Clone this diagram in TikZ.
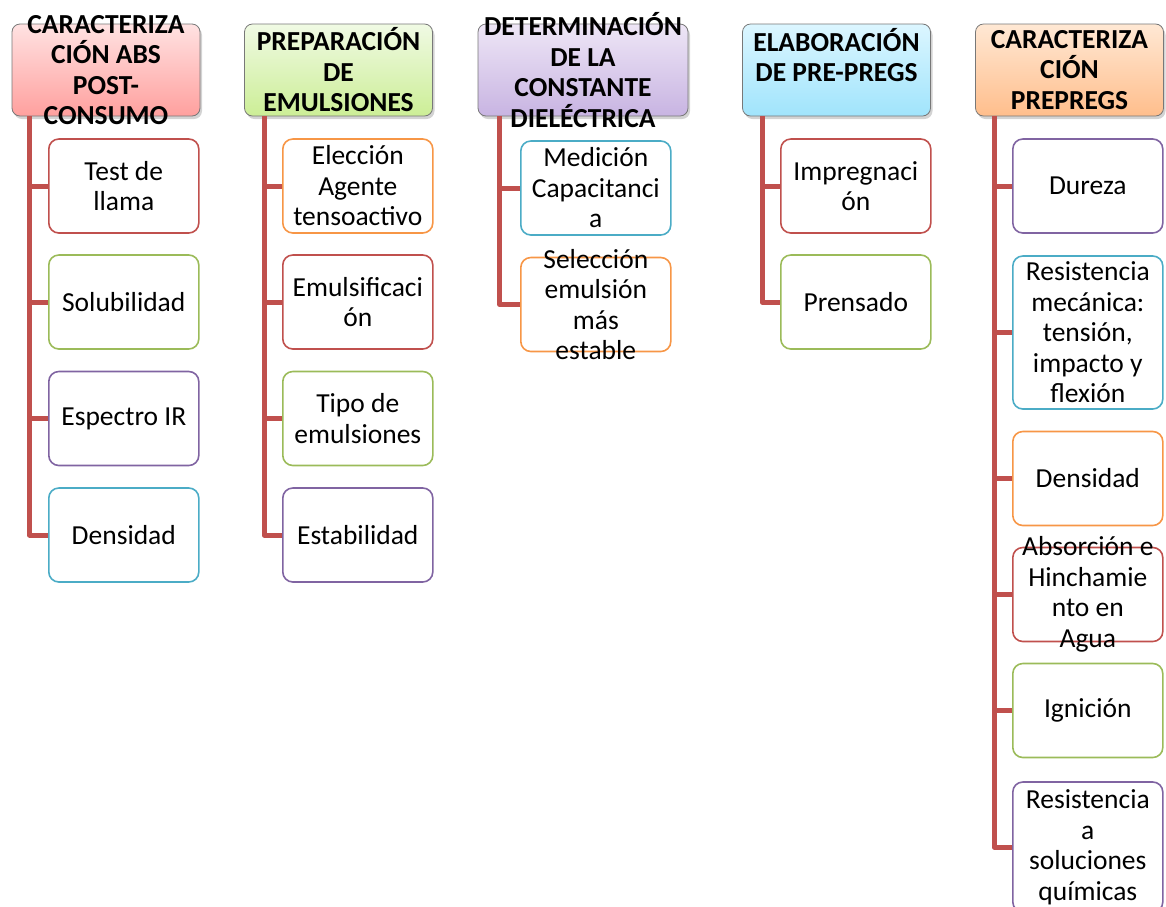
\documentclass[tikz,border=0pt]{standalone}
\usepackage{fontspec}
\setmainfont{Carlito}
\usetikzlibrary{shapes,shadows,positioning,calc}
\usepackage{xcolor}
\definecolor{accred}{RGB}{192,80,77}
\definecolor{accgreen}{RGB}{155,187,89}
\definecolor{accpurple}{RGB}{128,100,162}
\definecolor{acccyan}{RGB}{75,172,198}
\definecolor{accorange}{RGB}{247,150,70}
\definecolor{hdrline}{RGB}{120,120,120}

\begin{document}
\begin{tikzpicture}[x=1pt, y=-1pt,
    hdr/.style={rectangle, rounded corners=8pt, draw=hdrline, line width=0.8pt,
        minimum width=188pt, minimum height=92pt, inner sep=0pt,
        drop shadow={shadow xshift=2pt, shadow yshift=-3pt, opacity=.35}},
    hdrtxt/.style={inner sep=0pt, align=center, font=\bfseries\fontsize{27.5}{30.5}\selectfont},
    item/.style={rectangle, rounded corners=10pt, fill=white, line width=1.6pt,
        minimum width=150pt, minimum height=94pt, inner sep=0pt},
    itemtxt/.style={inner sep=0pt, align=center, font=\fontsize{27.5}{30.5}\selectfont},
    trunk/.style={draw=accred, line width=5pt, line join=round}]

    \useasboundingbox (0,0) rectangle (1166,906);

    % headers
    \node[hdr, top color={rgb,255:red,255;green,226;blue,226}, bottom color={rgb,255:red,255;green,160;blue,158},
        label={[hdrtxt]center:{CARACTERIZA\\CIÓN ABS\\POST-\\CONSUMO}}] (h1) at (106,70) {};
    \node[hdr, top color={rgb,255:red,240;green,250;blue,228}, bottom color={rgb,255:red,204;green,238;blue,150},
        label={[hdrtxt]center:{PREPARACIÓN\\DE\\EMULSIONES}}] (h2) at (338.5,70) {};
    \node[hdr, minimum width=210pt, top color={rgb,255:red,238;green,230;blue,246}, bottom color={rgb,255:red,200;green,180;blue,226},
        label={[hdrtxt]center:{DETERMINACIÓN\\DE LA\\CONSTANTE\\DIELÉCTRICA}}] (h3) at (583,70) {};
    \node[hdr, top color={rgb,255:red,220;green,246;blue,255}, bottom color={rgb,255:red,160;green,228;blue,252},
        label={[hdrtxt]center:{ELABORACIÓN\\DE PRE-PREGS\\~}}] (h4) at (836.5,70) {};
    \node[hdr, top color={rgb,255:red,255;green,232;blue,212}, bottom color={rgb,255:red,255;green,190;blue,140},
        label={[hdrtxt]center:{CARACTERIZA\\CIÓN\\PREPREGS}}] (h5) at (1069.5,70) {};

    % column 1
    \foreach \txt/\yy/\clr [count=\c] in {{Test de\\llama}/186/accred, {Solubilidad}/302/accgreen,
        {Espectro IR}/418.5/accpurple, {Densidad}/535/acccyan} {
        \draw[trunk] ([xshift=18pt]h1.south west) |- (48,\yy) coordinate (a\c);
        \node[item, draw=\clr, anchor=west, label={[itemtxt]center:{\txt}}] (b1\c) at (a\c) {};
    }

    % column 2
    \foreach \txt/\yy/\clr [count=\c] in {{Elección\\Agente\\tensoactivo}/186/accorange, {Emulsificaci\\ón}/302/accred,
        {Tipo de\\emulsiones}/418.5/accgreen, {Estabilidad}/535/accpurple} {
        \draw[trunk] ([xshift=20pt]h2.south west) |- (282,\yy) coordinate (c\c);
        \node[item, draw=\clr, anchor=west, label={[itemtxt]center:{\txt}}] (b2\c) at (c\c) {};
    }

    % column 3
    \foreach \txt/\yy/\clr [count=\c] in {{Medición\\Capacitanci\\a}/188/acccyan,
        {Selección\\emulsión\\más\\estable}/304.5/accorange} {
        \draw[trunk] ([xshift=22pt]h3.south west) |- (520,\yy) coordinate (d\c);
        \node[item, draw=\clr, anchor=west, label={[itemtxt]center:{\txt}}] (b3\c) at (d\c) {};
    }

    % column 4
    \foreach \txt/\yy/\clr [count=\c] in {{Impregnaci\\ón}/186/accred, {Prensado}/302/accgreen} {
        \draw[trunk] ([xshift=20pt]h4.south west) |- (780,\yy) coordinate (e\c);
        \node[item, draw=\clr, anchor=west, label={[itemtxt]center:{\txt}}] (b4\c) at (e\c) {};
    }

    % column 5
    \foreach \txt/\yy/\hh/\clr [count=\c] in {{Dureza}/186/94/accpurple,
        {Resistencia\\mecánica:\\tensión,\\impacto y\\flexión}/332.5/153/acccyan,
        {Densidad}/478.5/94/accorange, {Absorción e\\Hinchamie\\nto en\\Agua}/594.5/94/accred,
        {Ignición}/710.5/94/accgreen, {Resistencia\\a\\soluciones\\químicas}/847/130/accpurple} {
        \draw[trunk] ([xshift=19pt]h5.south west) |- (1012,\yy) coordinate (f\c);
        \node[item, draw=\clr, anchor=west, minimum height=\hh pt, label={[itemtxt]center:{\txt}}] (b5\c) at (f\c) {};
    }

\end{tikzpicture}
\end{document}
